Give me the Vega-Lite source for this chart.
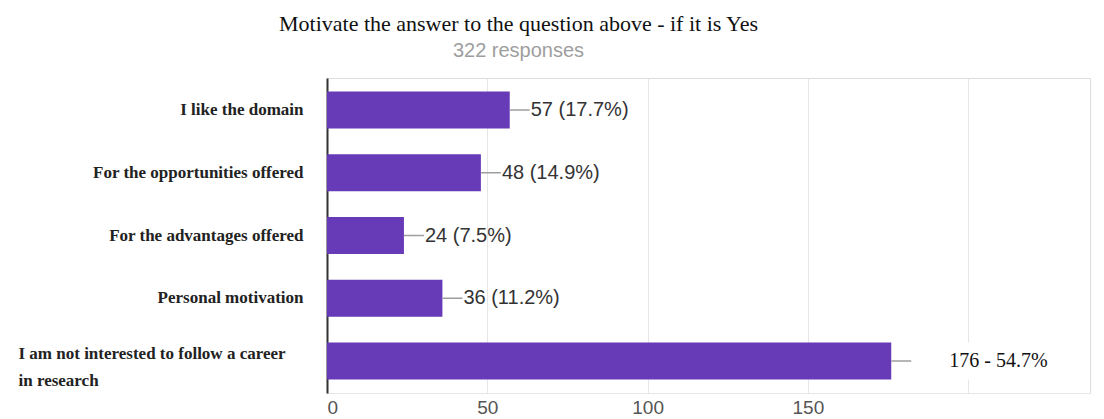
{
  "$schema": "https://vega.github.io/schema/vega-lite/v6.json",
  "autosize": "none",
  "width": 763,
  "height": 315,
  "padding": {"left": 327, "top": 78, "right": 14, "bottom": 26},
  "background": "white",
  "title": {
    "text": "Motivate the answer to the question above - if it is Yes",
    "subtitle": "322 responses",
    "anchor": "middle",
    "dx": -190,
    "offset": 16,
    "font": "Liberation Serif",
    "fontSize": 22,
    "fontWeight": "normal",
    "color": "#111111",
    "subtitleFont": "Liberation Sans",
    "subtitleFontSize": 20,
    "subtitleColor": "#9e9e9e",
    "subtitlePadding": 5
  },
  "data": {
    "values": [
      {"category": "I like the domain", "value": 57, "label": "57 (17.7%)"},
      {"category": "For the opportunities offered", "value": 48, "label": "48 (14.9%)"},
      {"category": "For the advantages offered", "value": 24, "label": "24 (7.5%)"},
      {"category": "Personal motivation", "value": 36, "label": "36 (11.2%)"},
      {"category": "I am not interested to follow a career in research", "value": 176, "label": "176 - 54.7%"}
    ]
  },
  "encoding": {
    "y": {
      "field": "category",
      "type": "nominal",
      "sort": null,
      "scale": {"paddingInner": 0.41, "paddingOuter": 0.215},
      "axis": {
        "title": null,
        "ticks": false,
        "domainColor": "#333333",
        "domainWidth": 2,
        "labelFont": "Liberation Serif",
        "labelFontWeight": "bold",
        "labelFontSize": 17,
        "labelColor": "#222222",
        "labelLimit": 400,
        "labelLineHeight": 27,
        "labelExpr": "datum.value == 'I am not interested to follow a career in research' ? ['I am not interested to follow a career', ' in research'] : datum.label",
        "labelAlign": {"condition": {"test": "datum.value == 'I am not interested to follow a career in research'", "value": "left"}, "value": "right"},
        "labelPadding": {"condition": {"test": "datum.value == 'I am not interested to follow a career in research'", "value": 309}, "value": 24},
        "labelOffset": {"condition": {"test": "datum.value == 'I am not interested to follow a career in research'", "value": -7}, "value": 0}
      }
    },
    "x": {
      "field": "value",
      "type": "quantitative",
      "scale": {"domain": [0, 238], "nice": false},
      "axis": {
        "title": null,
        "values": [0, 50, 100, 150, 200],
        "labelExpr": "datum.value == 200 ? '' : datum.label",
        "ticks": false,
        "grid": true,
        "gridColor": "#e6e6e6",
        "domainColor": "#e6e6e6",
        "labelFont": "Liberation Sans",
        "labelFontSize": 19,
        "labelColor": "#555555",
        "labelPadding": 5
      }
    }
  },
  "layer": [
    {"mark": {"type": "bar", "color": "#673ab7"}},
    {
      "mark": {"type": "rule", "color": "#9e9e9e", "strokeWidth": 1.5, "x2Offset": 20},
      "encoding": {"x2": {"field": "value"}}
    },
    {
      "transform": [{"filter": "datum.value > 100"}],
      "mark": {"type": "rect", "color": "white", "xOffset": 22, "x2Offset": 195},
      "encoding": {"x2": {"field": "value"}}
    },
    {
      "transform": [{"filter": "datum.value <= 100"}],
      "mark": {"type": "text", "align": "left", "baseline": "middle", "dx": 21, "font": "Liberation Sans", "fontSize": 20, "color": "#333333"},
      "encoding": {"text": {"field": "label"}}
    },
    {
      "transform": [{"filter": "datum.value > 100"}],
      "mark": {"type": "text", "align": "left", "baseline": "middle", "dx": 58, "font": "Liberation Serif", "fontSize": 20, "color": "#111111"},
      "encoding": {"text": {"field": "label"}}
    }
  ]
}
